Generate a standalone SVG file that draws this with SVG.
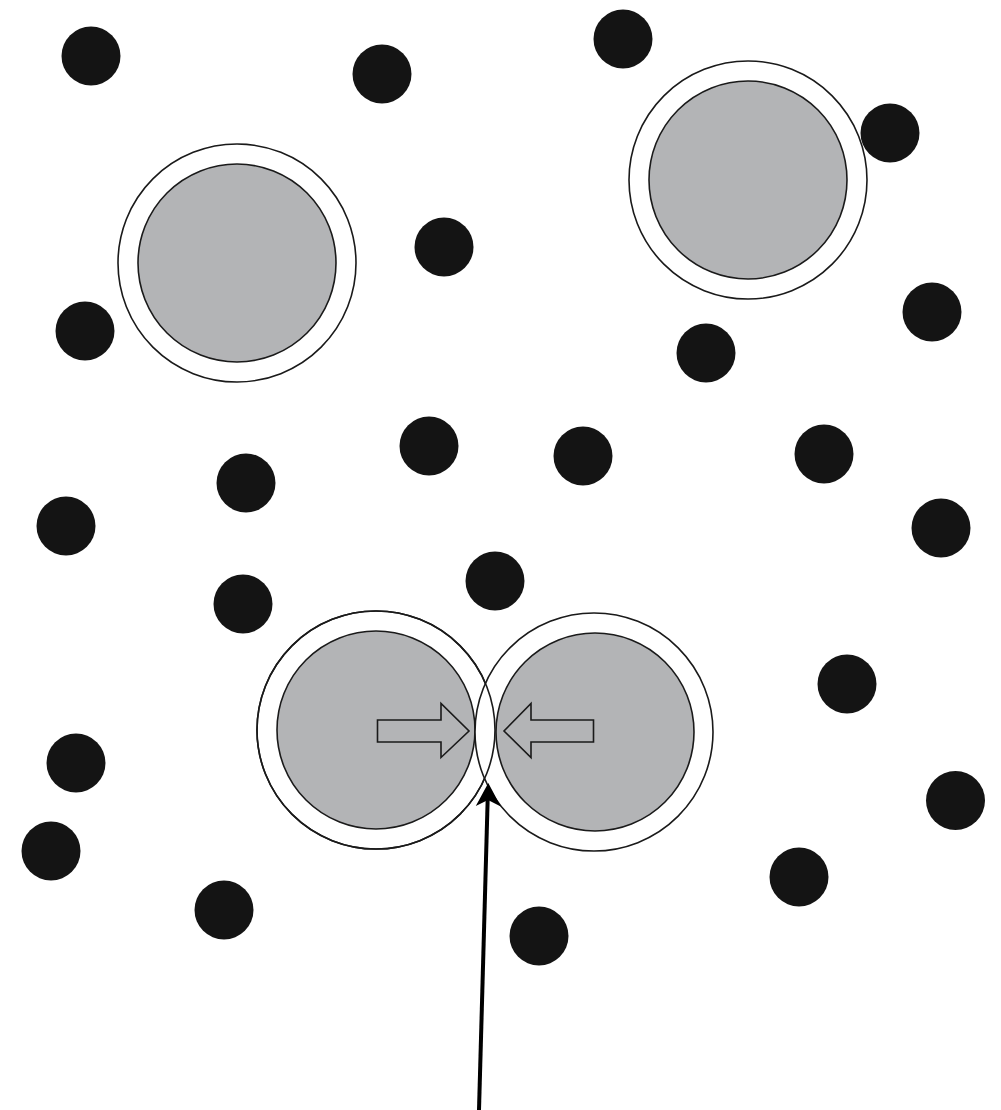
<svg xmlns="http://www.w3.org/2000/svg" width="1001" height="1110" viewBox="0 0 1001 1110">
<style>
.dot{fill:#141414}
.outer{fill:#fff;stroke:#1a1a1a;stroke-width:1.6}
.outer-line{fill:none;stroke:#1a1a1a;stroke-width:1.6}
.inner{fill:#b3b4b6;stroke:#1a1a1a;stroke-width:1.6}
.push{fill:#b3b4b6;stroke:#1a1a1a;stroke-width:1.6;stroke-linejoin:miter}
.lead{stroke:#000;stroke-width:4;fill:none}
</style>
<rect width="1001" height="1110" fill="#fff"/>
<g id="dots">
<circle class="dot" cx="91" cy="56" r="29.5"/>
<circle class="dot" cx="382" cy="74" r="29.5"/>
<circle class="dot" cx="623" cy="39" r="29.5"/>
<circle class="dot" cx="890" cy="133" r="29.5"/>
<circle class="dot" cx="444" cy="247" r="29.5"/>
<circle class="dot" cx="85" cy="331" r="29.5"/>
<circle class="dot" cx="932" cy="312" r="29.5"/>
<circle class="dot" cx="706" cy="353" r="29.5"/>
<circle class="dot" cx="429" cy="446" r="29.5"/>
<circle class="dot" cx="583" cy="456" r="29.5"/>
<circle class="dot" cx="824" cy="454" r="29.5"/>
<circle class="dot" cx="246" cy="483" r="29.5"/>
<circle class="dot" cx="66" cy="526" r="29.5"/>
<circle class="dot" cx="941" cy="528" r="29.5"/>
<circle class="dot" cx="495" cy="581" r="29.5"/>
<circle class="dot" cx="243" cy="604" r="29.5"/>
<circle class="dot" cx="847" cy="684" r="29.5"/>
<circle class="dot" cx="76" cy="763" r="29.5"/>
<circle class="dot" cx="955.5" cy="800.5" r="29.5"/>
<circle class="dot" cx="51" cy="851" r="29.5"/>
<circle class="dot" cx="799" cy="877" r="29.5"/>
<circle class="dot" cx="224" cy="910" r="29.5"/>
<circle class="dot" cx="539" cy="936" r="29.5"/>
</g>
<g id="particle-top-left">
<circle class="outer" cx="237" cy="263" r="119"/>
<circle class="inner" cx="237" cy="263" r="99"/>
</g>
<g id="particle-top-right">
<circle class="outer" cx="748" cy="180" r="119"/>
<circle class="inner" cx="748" cy="180" r="99"/>
</g>
<g id="particle-bottom-left">
<circle class="outer" cx="376" cy="730" r="119"/>
<circle class="inner" cx="376" cy="730" r="99"/>
</g>
<g id="particle-bottom-right">
<circle class="outer" cx="594" cy="732" r="119"/>
<circle class="inner" cx="595" cy="732" r="99"/>
<circle class="outer-line" cx="376" cy="730" r="119"/>
</g>
<g id="arrow-right">
<path class="push" d="M377.5,720 H441 V703.5 L469,731 L441,757.5 V742 H377.5 Z"/>
</g>
<g id="arrow-left">
<path class="push" d="M593.5,720 H531 V703.5 L504,731 L531,757.5 V742 H593.5 Z"/>
</g>
<g id="connectors">
<line class="lead" x1="479" y1="1110" x2="487.7" y2="798"/>
<path d="M488.3,783 L500.8,806.5 L488,800 L475.8,806 Z" fill="#000"/>
</g>
</svg>
